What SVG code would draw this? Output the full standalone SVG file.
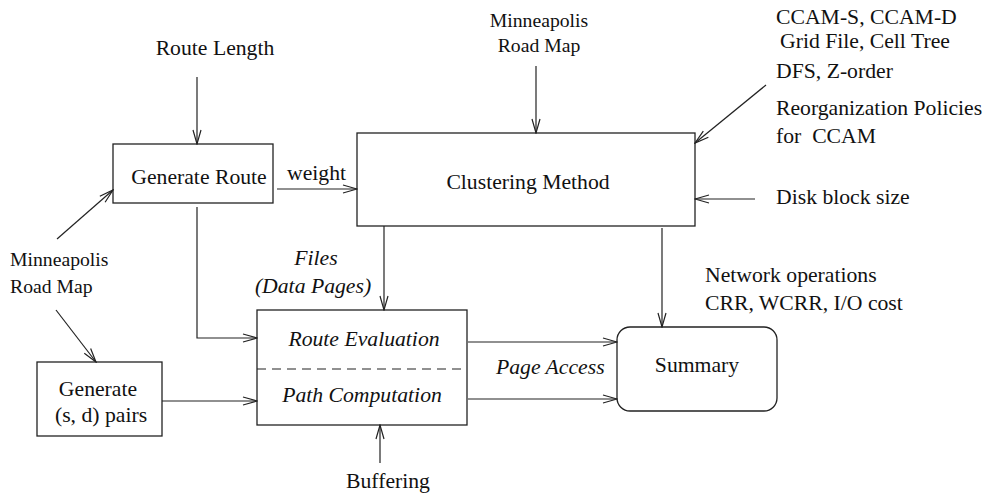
<svg xmlns="http://www.w3.org/2000/svg" width="984" height="493" viewBox="0 0 984 493">
  <style>
    .box { fill: none; stroke: #222; stroke-width: 1.3; }
    .dash { stroke: #222; stroke-width: 1.2; stroke-dasharray: 9 6; }
    .wire { fill: none; stroke: #222; stroke-width: 1.2; marker-end: url(#arrow); }
    text { font-family: "Liberation Serif", "Times New Roman", serif; font-size: 21.7px; fill: #111; }
    .small { font-size: 19.7px; }
    .it { font-style: italic; }
    .mid { text-anchor: middle; }
  </style>
  <defs>
    <marker id="arrow" viewBox="0 0 16 10" refX="15" refY="5" markerWidth="16" markerHeight="10" markerUnits="userSpaceOnUse" orient="auto">
      <path d="M1,1 L15,5 L1,9" fill="none" stroke="#222" stroke-width="1.2"/>
    </marker>
  </defs>

  <!-- free-standing input labels -->
  <g id="labels">
    <text class="mid" x="215" y="55">Route Length</text>
    <text class="small mid" x="539" y="27">Minneapolis</text>
    <text class="small mid" x="539" y="52">Road Map</text>
    <text x="776" y="24">CCAM-S, CCAM-D</text>
    <text x="780" y="48">Grid File, Cell Tree</text>
    <text x="776" y="78">DFS, Z-order</text>
    <text x="776" y="115">Reorganization Policies</text>
    <text x="776" y="143" xml:space="preserve">for  CCAM</text>
    <text x="776" y="204">Disk block size</text>
    <text class="small" x="10" y="266">Minneapolis</text>
    <text class="small" x="10" y="293">Road Map</text>
    <text x="287" y="180">weight</text>
    <text class="it mid" x="316" y="265">Files</text>
    <text class="it mid" x="313" y="293">(Data Pages)</text>
    <text class="it" x="496" y="374">Page Access</text>
    <text x="705" y="282">Network operations</text>
    <text x="705" y="310">CRR, WCRR, I/O cost</text>
    <text class="mid" x="388" y="488">Buffering</text>
  </g>

  <g id="generate-route">
    <rect class="box" x="113" y="144" width="160" height="59"/>
    <text class="mid" x="199" y="184">Generate Route</text>
  </g>

  <g id="clustering-method">
    <rect class="box" x="357" y="133" width="338" height="93"/>
    <text class="mid" x="528" y="189">Clustering Method</text>
  </g>

  <g id="generate-pairs">
    <rect class="box" x="37" y="362" width="125" height="74"/>
    <text class="mid" x="98" y="396">Generate</text>
    <text class="mid" x="101" y="422">(s, d) pairs</text>
  </g>

  <g id="route-evaluation">
    <rect class="box" x="257" y="310" width="210" height="115"/>
    <line class="dash" x1="257" y1="369" x2="467" y2="369"/>
    <text class="it mid" x="364" y="346">Route Evaluation</text>
    <text class="it mid" x="362" y="402">Path Computation</text>
  </g>

  <g id="summary">
    <rect class="box" x="617" y="327" width="160" height="84" rx="13" ry="13"/>
    <text class="mid" x="697" y="372">Summary</text>
  </g>

  <g id="connectors">
    <line class="wire" x1="197" y1="77" x2="197" y2="144"/>
    <line class="wire" x1="536" y1="66" x2="536" y2="133"/>
    <line class="wire" x1="766" y1="85" x2="695" y2="143"/>
    <line class="wire" x1="755" y1="199" x2="695" y2="199"/>
    <line class="wire" x1="277" y1="189" x2="357" y2="189"/>
    <line class="wire" x1="57" y1="239" x2="113" y2="190"/>
    <line class="wire" x1="56" y1="310" x2="96" y2="362"/>
    <polyline class="wire" points="197,207 197,338 257,338"/>
    <line class="wire" x1="384" y1="226" x2="384" y2="310"/>
    <line class="wire" x1="662" y1="228" x2="662" y2="327"/>
    <line class="wire" x1="162" y1="401" x2="257" y2="401"/>
    <line class="wire" x1="468" y1="342" x2="617" y2="342"/>
    <line class="wire" x1="468" y1="399" x2="617" y2="399"/>
    <line class="wire" x1="380" y1="463" x2="380" y2="425"/>
  </g>
</svg>
